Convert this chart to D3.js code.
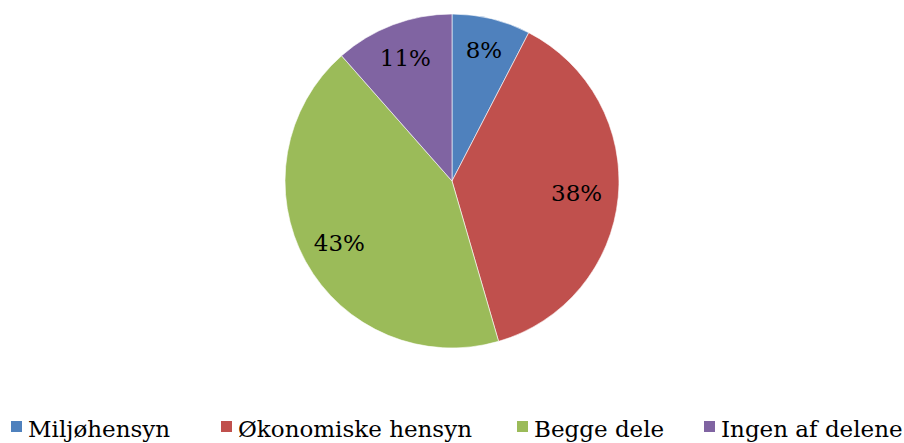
<!DOCTYPE html>
<html>
<head>
<meta charset="utf-8">
<script src="https://cdn.jsdelivr.net/npm/d3@7"></script>
<style>
  html, body { margin: 0; padding: 0; background: #fff; }
  #chart { width: 904px; height: 443px; }
</style>
</head>
<body>
<div id="chart"></div>
<script>
// Data
const categories = ["Miljøhensyn", "Økonomiske hensyn", "Begge dele", "Ingen af delene"];
const shares = [7.6, 37.9, 43.0, 11.5];
const labels = ["8%", "38%", "43%", "11%"];
const colors = ["#4F81BD", "#C0504D", "#9BBB59", "#8064A2"];

const width = 904, height = 443;
const cx = 452, cy = 181, radius = 167;
const fontFamily = "Georgia, 'DejaVu Serif', serif";

const svg = d3.select("#chart")
  .append("svg")
  .attr("width", width)
  .attr("height", height);

const pie = d3.pie().sort(null).value((d) => d);
const arcs = pie(shares);

const arc = d3.arc().innerRadius(0).outerRadius(radius);

const ctr = svg.append("g").attr("transform", `translate(${cx}, ${cy})`);

ctr.selectAll("path")
  .data(arcs)
  .enter()
  .append("path")
  .attr("d", arc)
  .attr("fill", (d, i) => colors[i])
  .attr("stroke", "#fff")
  .attr("stroke-width", 0.6);

// label radius differs a bit per slice in the original
const labelRadius = [0.81, 0.75, 0.77, 0.79];
ctr.selectAll("text.lbl")
  .data(arcs)
  .enter()
  .append("text")
  .attr("class", "lbl")
  .attr("transform", (d, i) => {
    const a = (d.startAngle + d.endAngle) / 2;
    const r = radius * labelRadius[i];
    return `translate(${Math.sin(a) * r}, ${-Math.cos(a) * r})`;
  })
  .attr("text-anchor", "middle")
  .attr("dy", "0.35em")
  .style("font-family", fontFamily)
  .style("font-size", "23px")
  .style("fill", "#000")
  .text((d, i) => labels[i]);

// Legend
const legendX = [11, 221, 517, 704];
const legend = svg.append("g").attr("transform", "translate(0, 437)");

const item = legend.selectAll("g")
  .data(categories)
  .enter()
  .append("g")
  .attr("transform", (d, i) => `translate(${legendX[i]}, 0)`);

item.append("rect")
  .attr("x", 0)
  .attr("y", -16)
  .attr("width", 11)
  .attr("height", 11)
  .attr("fill", (d, i) => colors[i]);

item.append("text")
  .attr("x", 17)
  .attr("y", 0)
  .style("font-family", fontFamily)
  .style("font-size", "23px")
  .style("fill", "#000")
  .text((d) => d);
</script>
</body>
</html>
